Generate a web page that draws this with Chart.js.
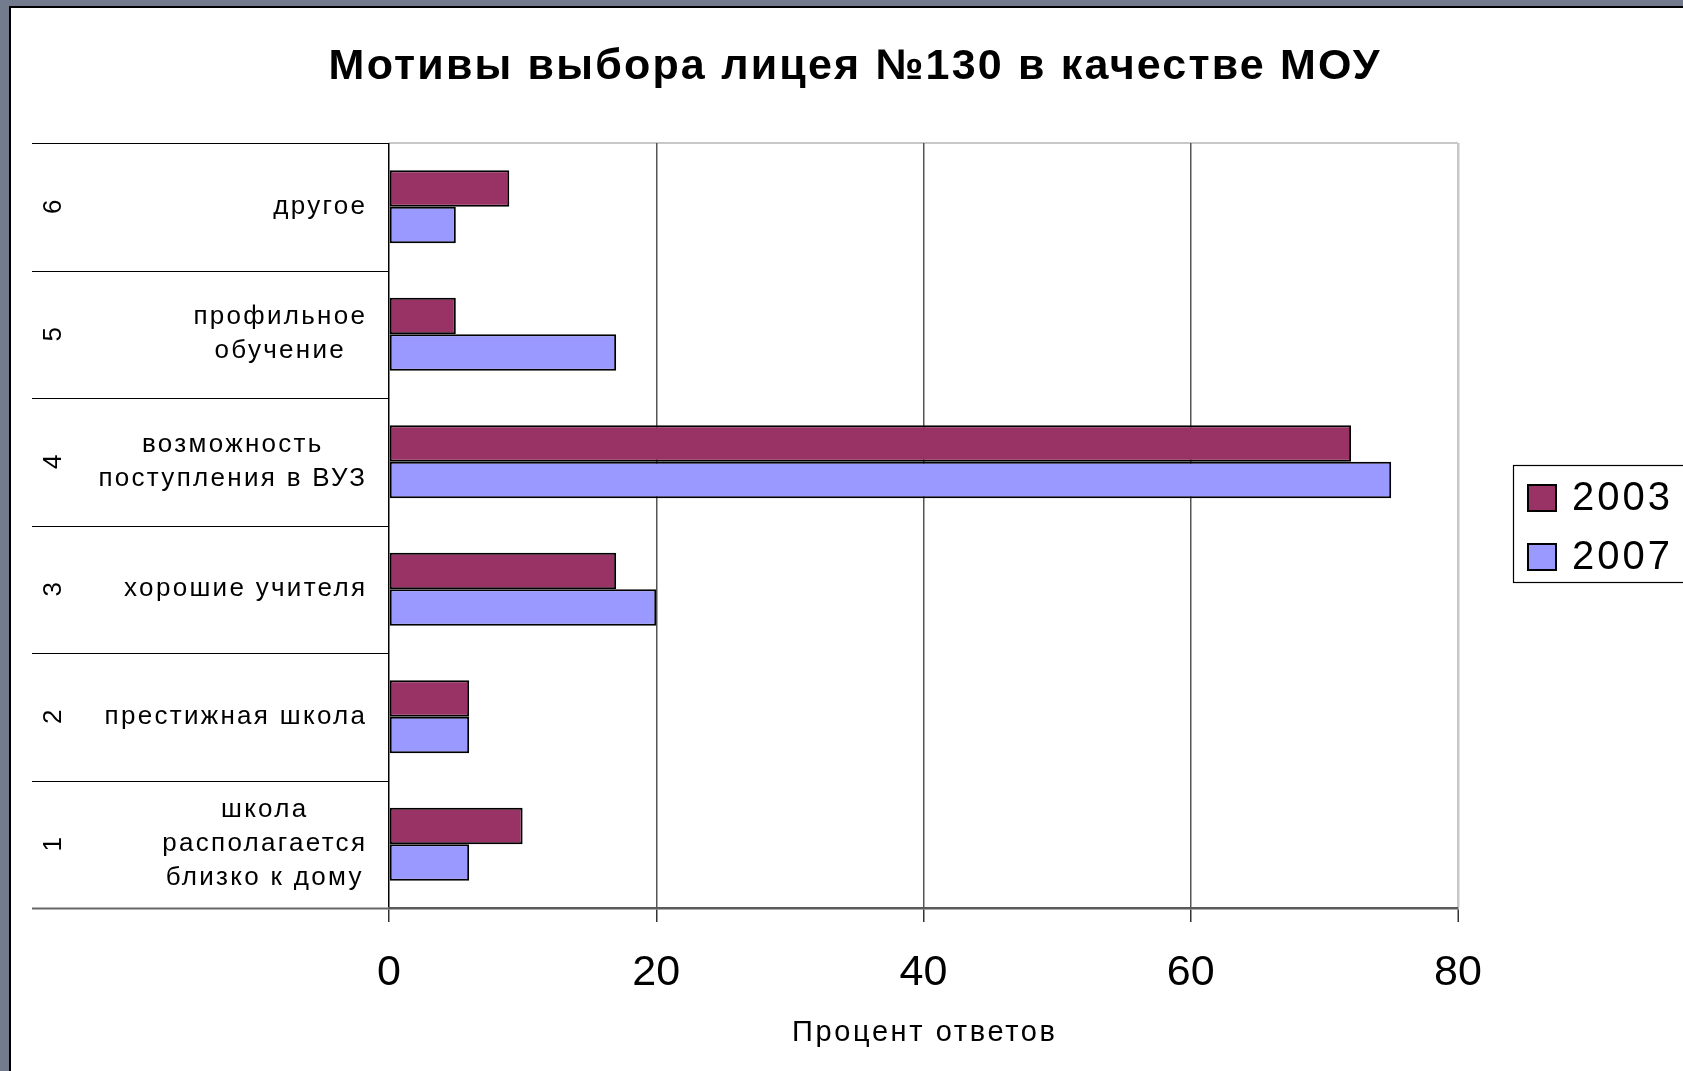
<!DOCTYPE html>
<html>
<head>
<meta charset="utf-8">
<script src="https://cdn.jsdelivr.net/npm/chart.js@4.4.1/dist/chart.umd.min.js"></script>
<style>
  html, body { margin: 0; padding: 0; background: #737b8e; overflow: hidden; }
  canvas { display: block; }
</style>
</head>
<body>
<canvas id="motivesChart" width="1683" height="1071"></canvas>
<script>
const chartTitle = 'Мотивы выбора лицея №130 в качестве МОУ';
const axisTitle = 'Процент ответов';
const categoryNumbers = ['1', '2', '3', '4', '5', '6'];
const categories = [
    ['школа', 'располагается', 'близко к дому'],
    ['престижная школа'],
    ['хорошие учителя'],
    ['возможность', 'поступления в ВУЗ'],
    ['профильное', 'обучение'],
    ['другое']
];
const seriesNames = ['2003', '2007'];
const values2003 = [10, 6, 17, 72, 5, 9];
const values2007 = [6, 6, 20, 75, 17, 5];
const seriesColors = ['#993366', '#9999ff'];
const xTicks = [0, 20, 40, 60, 80];

const FONT = '"Liberation Sans", Arial, sans-serif';

function spacedText(ctx, text, x, y, spacing) {
    if ('letterSpacing' in ctx) {
        ctx.letterSpacing = spacing + 'px';
        // trailing spacing shifts centred text, compensate
        const shift = ctx.textAlign === 'center' ? spacing / 2 : (ctx.textAlign === 'right' ? spacing : 0);
        ctx.fillText(text, x + shift, y);
        ctx.letterSpacing = '0px';
    } else {
        ctx.fillText(text, x, y);
    }
}

const framePlugin = {
    id: 'frame',
    beforeDraw(chart) {
        const { ctx, width, height, chartArea } = chart;
        ctx.save();
        ctx.fillStyle = '#737b8e';
        ctx.fillRect(0, 0, width, height);
        ctx.fillStyle = '#ffffff';
        ctx.fillRect(10, 7, width - 10, height - 7);
        ctx.strokeStyle = '#000';
        ctx.lineWidth = 2;
        ctx.beginPath();
        ctx.moveTo(10, height);
        ctx.lineTo(10, 7);
        ctx.lineTo(width, 7);
        ctx.stroke();
        // plot area top border
        ctx.strokeStyle = '#c8c8c8';
        ctx.lineWidth = 2;
        ctx.beginPath();
        ctx.moveTo(chartArea.left, chartArea.top);
        ctx.lineTo(chartArea.right, chartArea.top);
        ctx.stroke();
        ctx.restore();
    },
    afterDraw(chart) {
        const { ctx, chartArea } = chart;
        const yScale = chart.scales.y;
        const n = categories.length;
        const band = (chartArea.bottom - chartArea.top) / n;
        const tableLeft = 32;
        ctx.save();

        // multi-level category table lines
        for (let k = 0; k <= n; k++) {
            const y = Math.round(chartArea.top + k * band) + 0.5;
            ctx.strokeStyle = k === n ? '#666' : '#000';
            ctx.lineWidth = k === n ? 2 : 1.2;
            ctx.beginPath();
            ctx.moveTo(tableLeft, y);
            ctx.lineTo(chartArea.left, y);
            ctx.stroke();
        }

        // category labels
        ctx.fillStyle = '#000';
        ctx.font = '26px ' + FONT;
        ctx.textBaseline = 'middle';
        const lineH = 34;
        const spacing = 2.3;
        categories.forEach((lines, i) => {
            const cy = yScale.getPixelForValue(i);
            ctx.letterSpacing = spacing + 'px';
            const blockW = Math.max(...lines.map(l => ctx.measureText(l).width)) - spacing;
            ctx.letterSpacing = '0px';
            const cx = 365 - blockW / 2;
            ctx.textAlign = 'center';
            lines.forEach((line, j) => {
                const ly = cy + (j - (lines.length - 1) / 2) * lineH;
                spacedText(ctx, line, cx, ly, spacing);
            });
            // rotated outer level numbers
            ctx.save();
            ctx.translate(54, cy);
            ctx.rotate(-Math.PI / 2);
            ctx.textAlign = 'center';
            ctx.fillText(categoryNumbers[i], 0, 0);
            ctx.restore();
        });

        // title
        ctx.font = 'bold 43px ' + FONT;
        ctx.textAlign = 'center';
        ctx.textBaseline = 'middle';
        spacedText(ctx, chartTitle, 854, 67, 2.2);

        // axis title
        ctx.font = '29px ' + FONT;
        spacedText(ctx, axisTitle, (chartArea.left + chartArea.right) / 2, 1033, 2.6);

        // legend
        const lgLeft = 1513, lgTop = 465, lgBottom = 582;
        ctx.strokeStyle = '#000';
        ctx.lineWidth = 1.2;
        ctx.strokeRect(lgLeft + 0.5, lgTop + 0.5, chart.width - lgLeft + 10, lgBottom - lgTop);
        ctx.font = '40px ' + FONT;
        ctx.textAlign = 'left';
        ctx.textBaseline = 'middle';
        seriesNames.forEach((name, i) => {
            const ry = 498 + i * 59;
            ctx.fillStyle = seriesColors[i];
            ctx.fillRect(1528, ry - 13, 28, 26);
            ctx.lineWidth = 2;
            ctx.strokeRect(1528, ry - 13, 28, 26);
            ctx.fillStyle = '#000';
            spacedText(ctx, name, 1572, ry + 1, 3);
        });
        ctx.restore();
    }
};

new Chart(document.getElementById('motivesChart'), {
    type: 'bar',
    data: {
        labels: categoryNumbers,
        datasets: [{
            label: seriesNames[0],
            data: values2003,
            backgroundColor: seriesColors[0],
            borderColor: '#000',
            borderWidth: 2,
            borderSkipped: false
        }, {
            label: seriesNames[1],
            data: values2007,
            backgroundColor: seriesColors[1],
            borderColor: '#000',
            borderWidth: 2,
            borderSkipped: false
        }]
    },
    options: {
        indexAxis: 'y',
        responsive: false,
        animation: false,
        devicePixelRatio: 1,
        layout: { padding: { left: 389, right: 225, top: 143, bottom: 0 } },
        datasets: { bar: { categoryPercentage: 2 / 3.5, barPercentage: 1 } },
        scales: {
            y: {
                display: false,
                reverse: true
            },
            x: {
                min: 0,
                max: 80,
                afterBuildTicks: scale => { scale.ticks = xTicks.map(v => ({ value: v })); },
                afterFit: scale => { scale.height = 163; },
                ticks: {
                    color: '#000',
                    font: { family: FONT, size: 43 },
                    padding: 25,
                    maxRotation: 0
                },
                grid: {
                    color: c => c.tick.value === 0 ? '#000' : (c.tick.value === 80 ? '#c8c8c8' : '#555'),
                    lineWidth: c => c.tick.value === 80 ? 2.5 : 1.5,
                    tickColor: '#333',
                    tickLength: 14,
                    tickWidth: 1.5
                },
                border: { color: '#5a5a5a', width: 2.5 }
            }
        },
        plugins: {
            legend: { display: false },
            title: { display: false },
            tooltip: { enabled: false }
        }
    },
    plugins: [framePlugin]
});
</script>
</body>
</html>
